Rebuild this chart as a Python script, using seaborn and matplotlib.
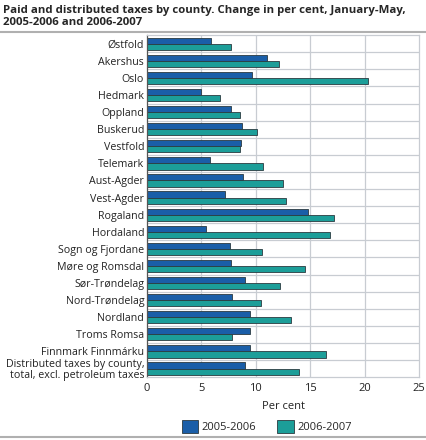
import pandas as pd
import matplotlib.pyplot as plt
import seaborn as sns
from matplotlib.lines import Line2D

# county values
counties = ['Østfold', 'Akershus', 'Oslo', 'Hedmark', 'Oppland', 'Buskerud',
            'Vestfold', 'Telemark', 'Aust-Agder', 'Vest-Agder', 'Rogaland',
            'Hordaland', 'Sogn og Fjordane', 'Møre og Romsdal', 'Sør-Trøndelag',
            'Nord-Trøndelag', 'Nordland', 'Troms Romsa', 'Finnmark Finnmárku',
            'Distributed taxes by county,\ntotal, excl. petroleum taxes']
change_0506 = [5.9, 11.0, 9.6, 5.0, 7.7, 8.7, 8.6, 5.8, 8.8, 7.2,
               14.8, 5.4, 7.6, 7.7, 9.0, 7.8, 9.5, 9.5, 9.5, 9.0]
change_0607 = [7.7, 12.1, 20.3, 6.7, 8.5, 10.1, 8.5, 10.7, 12.5, 12.8,
               17.2, 16.8, 10.6, 14.5, 12.2, 10.5, 13.2, 7.8, 16.4, 14.0]
periods = ['2005-2006', '2006-2007']

df = pd.DataFrame({
    'county': counties * 2,
    'value': change_0506 + change_0607,
    'period': [periods[0]] * len(counties) + [periods[1]] * len(counties),
})

sns.set_style('white')
plt.rcParams['font.family'] = ['Open Sans', 'DejaVu Sans']

fig = plt.figure(figsize=(4.26, 4.40), dpi=100)
ax = fig.add_axes([0.345, 0.143, 0.639, 0.777])

sns.barplot(data=df, y='county', x='value', hue='period', orient='h',
            palette=['#1a5ea8', '#1c9e99'], saturation=1, width=0.72,
            edgecolor='#2a3a40', linewidth=0.6, ax=ax, legend=True)

ax.set_xlim(0, 25)
ax.set_xticks([0, 5, 10, 15, 20, 25])
ax.set_ylim(len(counties) - 0.5, -0.5)
# grid: vertical at ticks, horizontal between categories
for x in [5, 10, 15, 20]:
    ax.axvline(x, color='#c8ccd2', lw=0.9, zorder=0.5)
for i in range(len(counties) - 1):
    ax.axhline(i + 0.5, color='#c8ccd2', lw=0.9, zorder=0.5)
for s in ax.spines.values():
    s.set_color('#c8ccd2')
    s.set_linewidth(0.9)
ax.spines['left'].set_color('#555555')

ax.tick_params(axis='x', length=0, labelsize=8, colors='#222222', pad=4)
ax.tick_params(axis='y', length=0, labelsize=7.7, colors='#222222', pad=2)
ax.set_ylabel('')
ax.set_xlabel('Per cent', fontsize=8, color='#222222', labelpad=5)
plt.setp(ax.get_yticklabels(), linespacing=0.95)

ax.legend(loc='upper center', bbox_to_anchor=(0.44, -0.095), ncol=2,
          frameon=False, fontsize=8, handlelength=1.5, handleheight=1.5,
          columnspacing=1.9, handletextpad=0.3)

fig.text(0.006, 0.988, 'Paid and distributed taxes by county. Change in per cent, January-May,\n2005-2006 and 2006-2007',
         fontsize=8.2, fontweight='bold', va='top', ha='left', linespacing=1.1)
fig.add_artist(Line2D([0, 1], [0.927, 0.927], color='#b0b0b0', lw=1.5))
fig.add_artist(Line2D([0, 1], [0.007, 0.007], color='#b0b0b0', lw=1.5))

fig.savefig('out.png', dpi=100)
